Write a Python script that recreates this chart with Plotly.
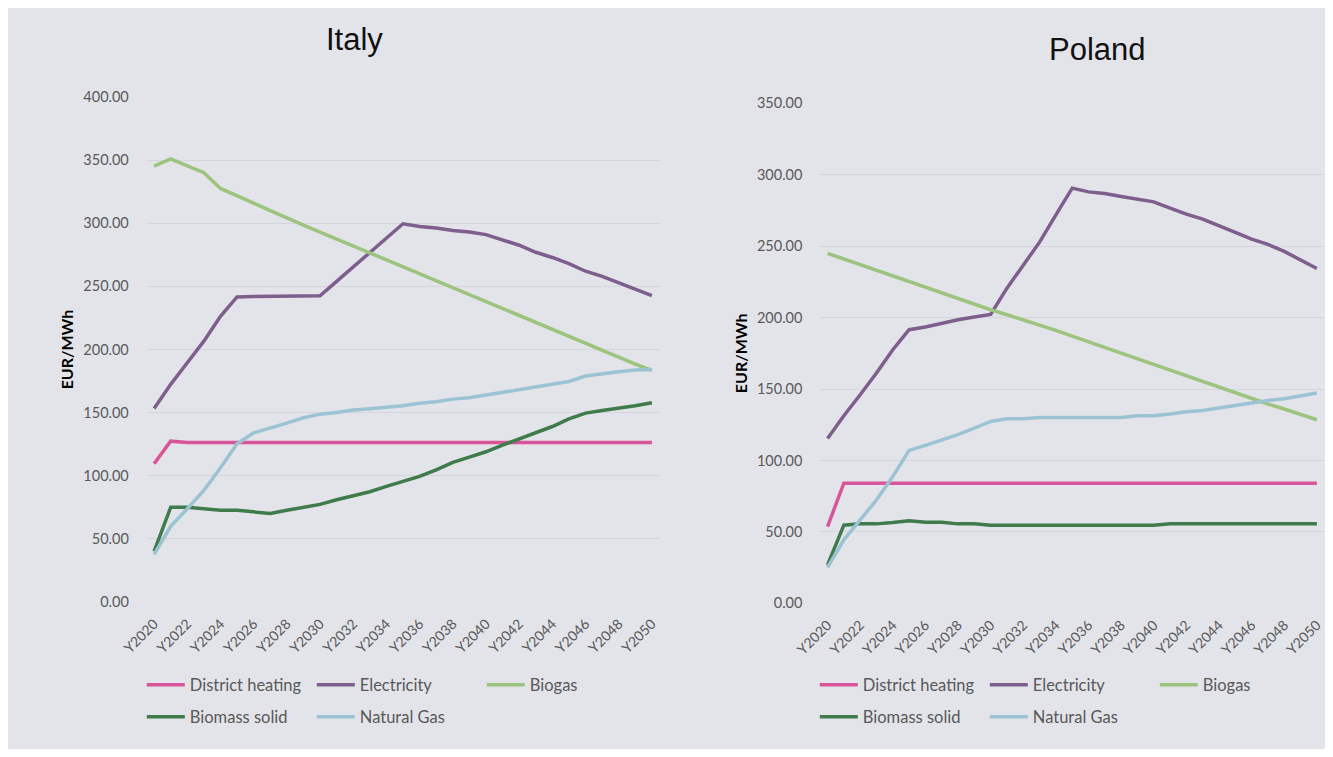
import plotly.graph_objects as go

years = [f"Y{y}" for y in range(2020, 2051)]
tick_labels = [f"Y{y}" for y in range(2020, 2051, 2)]

series_names = ["District heating", "Electricity", "Biogas", "Biomass solid", "Natural Gas"]
colors = ["#d9559a", "#7d5e8d", "#9dc47f", "#3f7b4b", "#9cc3d3"]

# Italy (EUR/MWh)
italy_dh = [109.5, 127.4, 126.4, 126.4, 126.4, 126.4, 126.4, 126.4, 126.4, 126.4, 126.4,
            126.4, 126.4, 126.4, 126.4, 126.4, 126.4, 126.4, 126.4, 126.4, 126.4,
            126.4, 126.4, 126.4, 126.4, 126.4, 126.4, 126.4, 126.4, 126.4, 126.4]
italy_el = [153.2, 172.4, 189.5, 206.6, 226.3, 241.6, 242.0, 242.3, 242.3, 242.4, 242.6,
            254.0, 265.4, 276.8, 288.2, 299.6, 297.4, 296.3, 294.2, 293.0, 291.0,
            286.8, 282.6, 277.0, 272.9, 268.0, 262.0, 258.0, 253.0, 247.4, 242.6]
italy_bg = [345.3, 351.0, 345.5, 340.0, 327.6, 322.0, 316.0, 310.0, 304.0, 298.5, 293.0,
            287.5, 281.5, 276.0, 270.5, 265.0, 259.5, 254.0, 248.5, 243.0, 237.5,
            232.0, 226.5, 221.0, 215.5, 210.0, 204.5, 199.0, 193.5, 188.5, 183.4]
italy_bs = [40.1, 75.0, 75.0, 73.6, 72.6, 72.6, 71.5, 70.2, 72.6, 75.0, 77.3,
            81.0, 84.2, 87.3, 91.6, 95.8, 99.5, 104.7, 110.6, 114.8, 119.0,
            124.3, 129.0, 134.3, 139.0, 145.1, 149.6, 151.7, 153.3, 155.4, 157.8]
italy_ng = [37.7, 59.9, 73.9, 88.4, 106.3, 125.3, 134.0, 137.7, 141.7, 145.9, 148.8,
            150.1, 152.0, 153.0, 154.4, 155.4, 157.5, 158.6, 160.7, 161.7, 163.9,
            166.0, 168.0, 170.2, 172.3, 174.7, 179.0, 181.0, 182.4, 183.7, 184.2]

# Poland (EUR/MWh)
poland_dh = [53.7, 84.1, 84.1, 84.1, 84.1, 84.1, 84.1, 84.1, 84.1, 84.1, 84.1,
             84.1, 84.1, 84.1, 84.1, 84.1, 84.1, 84.1, 84.1, 84.1, 84.1,
             84.1, 84.1, 84.1, 84.1, 84.1, 84.1, 84.1, 84.1, 84.1, 84.1]
poland_el = [115.4, 131.3, 146.0, 161.2, 177.5, 191.5, 193.4, 196.2, 198.5, 200.4, 202.2,
             220.6, 237.0, 252.8, 271.9, 290.6, 288.0, 286.8, 284.7, 282.9, 281.0,
             276.6, 272.4, 268.9, 264.5, 259.6, 254.9, 251.2, 246.3, 240.4, 234.4]
poland_bg = [245.0, 241.0, 237.5, 233.5, 229.5, 225.5, 221.5, 217.5, 213.5, 209.5, 205.5,
             202.0, 198.5, 195.0, 191.0, 187.0, 183.0, 179.0, 175.0, 171.0, 167.0,
             163.0, 159.0, 155.0, 151.0, 147.0, 143.0, 139.5, 136.0, 132.0, 128.5]
poland_bs = [26.9, 54.7, 55.6, 55.6, 56.5, 57.7, 56.8, 56.8, 55.6, 55.6, 54.7,
             54.7, 54.7, 54.7, 54.7, 54.7, 54.7, 54.7, 54.7, 54.7, 54.7,
             55.6, 55.6, 55.6, 55.6, 55.6, 55.6, 55.6, 55.6, 55.6, 55.6]
poland_ng = [25.2, 44.4, 58.4, 72.4, 88.8, 107.0, 110.5, 114.0, 118.0, 122.7, 127.3,
             129.2, 129.2, 130.1, 130.1, 130.1, 130.1, 130.1, 130.1, 131.3, 131.3,
             132.5, 134.1, 135.0, 136.9, 138.3, 140.2, 142.0, 143.2, 145.3, 147.2]

italy_series = [italy_dh, italy_el, italy_bg, italy_bs, italy_ng]
poland_series = [poland_dh, poland_el, poland_bg, poland_bs, poland_ng]

W, H = 1317, 741
BG = "#e3e4e9"
GRID = "#d5d6db"
TICK = "#595959"
FONT = "Lato, 'Open Sans', sans-serif"


def fx(px):
    return px / W


def fy(py):
    return 1 - py / H


fig = go.Figure()

for i, (name, col) in enumerate(zip(series_names, colors)):
    fig.add_trace(go.Scatter(
        x=years, y=italy_series[i], name=name, mode="lines",
        line=dict(color=col, width=3.5), xaxis="x", yaxis="y",
        legend="legend" if i < 3 else "legend2"))
for i, (name, col) in enumerate(zip(series_names, colors)):
    fig.add_trace(go.Scatter(
        x=years, y=poland_series[i], name=name, mode="lines",
        line=dict(color=col, width=3.5), xaxis="x2", yaxis="y2",
        legend="legend3" if i < 3 else "legend4"))

xcommon = dict(type="category", range=[-0.5, 30.5], tickmode="array",
               tickvals=tick_labels, ticktext=tick_labels, tickangle=-45,
               showgrid=False, zeroline=False, showline=False, ticks="",
               tickfont=dict(family=FONT, size=14, color=TICK),
               ticklabelstandoff=10, automargin=False, fixedrange=True)
ycommon = dict(showgrid=True, gridcolor=GRID, gridwidth=1, zeroline=False,
               showline=False, ticks="", tickformat=".2f",
               tickfont=dict(family=FONT, size=14.5, color=TICK),
               ticklabelstandoff=16, automargin=False, fixedrange=True,
               title=dict(text="<b>EUR/MWh</b>",
                          font=dict(family=FONT, size=16, color="#000000"),
                          standoff=5))

legend_common = dict(orientation="h", entrywidth=117, entrywidthmode="pixels",
                     font=dict(family=FONT, size=16.5, color=TICK),
                     bgcolor="rgba(0,0,0,0)", borderwidth=0,
                     xanchor="left", yanchor="middle", itemwidth=38,
                     traceorder="normal")

fig.update_layout(
    width=W, height=H,
    margin=dict(l=0, r=0, t=0, b=0, autoexpand=False),
    paper_bgcolor=BG, plot_bgcolor=BG,
    xaxis=dict(xcommon, domain=[fx(137.8), fx(652.2)], anchor="y"),
    yaxis=dict(ycommon, domain=[fy(594), fy(89)], range=[0, 400], dtick=50, anchor="x"),
    xaxis2=dict(xcommon, domain=[fx(811.4), 1.0], anchor="y2"),
    yaxis2=dict(ycommon, domain=[fy(595.3), fy(95.3)], range=[0, 350], dtick=50, anchor="x2"),
    legend=dict(legend_common, x=fx(133.8), y=fy(677)),
    legend2=dict(legend_common, x=fx(133.8), y=fy(709)),
    legend3=dict(legend_common, x=fx(806.8), y=fy(677)),
    legend4=dict(legend_common, x=fx(806.8), y=fy(709)),
    annotations=[
        dict(text="Italy", x=fx(346), y=fy(32), xref="paper", yref="paper",
             showarrow=False, xanchor="center", yanchor="middle",
             font=dict(family="Liberation Sans, Arial, sans-serif", size=31, color="#111111")),
        dict(text="Poland", x=fx(1089), y=fy(42), xref="paper", yref="paper",
             showarrow=False, xanchor="center", yanchor="middle",
             font=dict(family="Liberation Sans, Arial, sans-serif", size=31, color="#111111")),
    ],
    showlegend=True,
)

fig.write_html("out.html")
